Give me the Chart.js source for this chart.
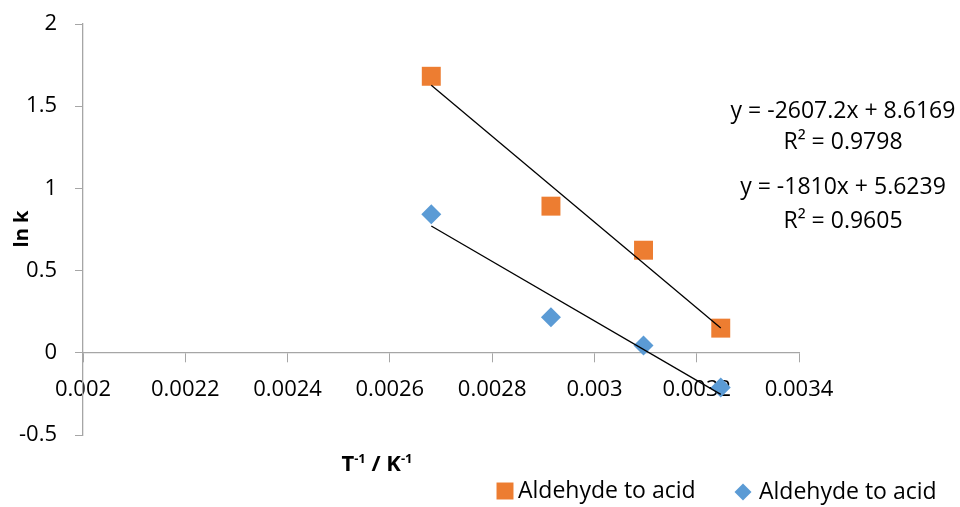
<!DOCTYPE html>
<html>
<head>
<meta charset="utf-8">
<title>ln k vs 1/T</title>
<script src="https://cdn.jsdelivr.net/npm/chart.js@4.4.1/dist/chart.umd.min.js"></script>
<style>
  body { margin: 0; background: #fff; }
  #wrap { width: 960px; height: 507px; }
</style>
</head>
<body>
<div id="wrap"><canvas id="grafico" width="960" height="507"></canvas></div>
<script>
// inverse temperature (1/K) and ln k for the two series
const invT = [0.002681, 0.002915, 0.003096, 0.003247];
const lnkLaranja = [1.682, 0.892, 0.624, 0.150];
const lnkAzul = [0.843, 0.217, 0.044, -0.211];

// linear fits: [laranja, azul]
const fitSlopes = [-2607.2, -1810];
const fitIntercepts = [8.6169, 5.6239];
const fitR2 = ['0.9798', '0.9605'];

const serieLabels = ['Aldehyde to acid', 'Aldehyde to acid'];
const xTicks = [0.002, 0.0022, 0.0024, 0.0026, 0.0028, 0.003, 0.0032, 0.0034];
const yTicks = [-0.5, 0, 0.5, 1, 1.5, 2];

const LARANJA = '#ed7d31';
const AZUL = '#5b9bd5';
const EIXO = '#a6a6a6';
const FONTE = '"Open Sans", "Liberation Sans", sans-serif';

function pontos(ys) {
    return invT.map((x, i) => ({ x, y: ys[i] }));
}

function linhaAjuste(i) {
    const x0 = invT[0], x1 = invT[invT.length - 1];
    return [
        { x: x0, y: fitSlopes[i] * x0 + fitIntercepts[i] },
        { x: x1, y: fitSlopes[i] * x1 + fitIntercepts[i] }
    ];
}

// titles, equations and legend
const anotacoes = {
    id: 'anotacoes',
    afterDraw(chart) {
        const ctx = chart.ctx;
        ctx.save();
        ctx.fillStyle = '#000';

        // y title
        ctx.save();
        ctx.translate(22, 229);
        ctx.rotate(-Math.PI / 2);
        ctx.font = 'bold 20px ' + FONTE;
        ctx.textAlign = 'center';
        ctx.textBaseline = 'middle';
        ctx.fillText('ln k', 0, 0);
        ctx.restore();

        // x title with superscripts
        const partes = [
            { t: 'T', f: 'bold 22px ' + FONTE, dy: 0 },
            { t: '-1', f: 'bold 13px ' + FONTE, dy: -8 },
            { t: ' / K', f: 'bold 22px ' + FONTE, dy: 0 },
            { t: '-1', f: 'bold 13px ' + FONTE, dy: -8 }
        ];
        let largura = 0;
        partes.forEach(p => { ctx.font = p.f; largura += ctx.measureText(p.t).width; });
        let xt = 377 - largura / 2;
        ctx.textAlign = 'left';
        ctx.textBaseline = 'alphabetic';
        partes.forEach(p => {
            ctx.font = p.f;
            ctx.fillText(p.t, xt, 471 + p.dy);
            xt += ctx.measureText(p.t).width;
        });

        // trendline equations
        ctx.font = '23px ' + FONTE;
        ctx.textAlign = 'center';
        ctx.textBaseline = 'middle';
        const eqY = [[111, 142], [187, 221]];
        fitSlopes.forEach((m, i) => {
            ctx.fillText(`y = ${m}x + ${fitIntercepts[i]}`, 843, eqY[i][0]);
            ctx.fillText(`R² = ${fitR2[i]}`, 843, eqY[i][1]);
        });

        // legend
        const itens = [
            { ds: chart.data.datasets[0], mx: 505, tx: 518, y: 491 },
            { ds: chart.data.datasets[1], mx: 743, tx: 759, y: 492 }
        ];
        itens.forEach(it => {
            ctx.fillStyle = it.ds.backgroundColor;
            ctx.strokeStyle = it.ds.backgroundColor;
            Chart.helpers.drawPoint(ctx, {
                pointStyle: it.ds.pointStyle,
                radius: it.ds.pointStyle === 'rect' ? 12 : 8.5,
                rotation: 0,
                borderWidth: 0
            }, it.mx, it.y);
            ctx.fillStyle = '#000';
            ctx.font = '23px ' + FONTE;
            ctx.textAlign = 'left';
            ctx.textBaseline = 'middle';
            ctx.fillText(it.ds.label, it.tx, it.y);
        });
        ctx.restore();
    }
};

const ctx = document.getElementById('grafico').getContext('2d');
window.graficoArrhenius = new Chart(ctx, {
    type: 'scatter',
    data: {
        datasets: [
            {
                label: serieLabels[0],
                data: pontos(lnkLaranja),
                pointStyle: 'rect',
                pointRadius: 13.4,
                backgroundColor: LARANJA,
                borderColor: LARANJA,
                borderWidth: 0,
                order: 2
            },
            {
                label: serieLabels[1],
                data: pontos(lnkAzul),
                pointStyle: 'rectRot',
                pointRadius: 10,
                backgroundColor: AZUL,
                borderColor: AZUL,
                borderWidth: 0,
                order: 2
            },
            {
                data: linhaAjuste(0),
                showLine: true,
                pointRadius: 0,
                borderColor: '#000',
                borderWidth: 1.3,
                order: 1
            },
            {
                data: linhaAjuste(1),
                showLine: true,
                pointRadius: 0,
                borderColor: '#000',
                borderWidth: 1.3,
                order: 1
            }
        ]
    },
    options: {
        responsive: false,
        animation: false,
        layout: { padding: { left: 0, top: 24, right: 161, bottom: 72 } },
        plugins: {
            legend: { display: false },
            tooltip: { enabled: false }
        },
        scales: {
            x: {
                type: 'linear',
                position: { y: 0 },
                min: 0.002,
                max: 0.0034,
                afterBuildTicks: s => { s.ticks = xTicks.map(v => ({ value: v })); },
                ticks: {
                    color: '#000',
                    font: { family: FONTE, size: 22 },
                    padding: 15,
                    maxRotation: 0,
                    autoSkip: false,
                    callback: v => String(v)
                },
                grid: { drawOnChartArea: false, drawTicks: true, tickLength: 9, color: EIXO },
                border: { display: true, color: EIXO, width: 1.3 }
            },
            y: {
                type: 'linear',
                min: -0.5,
                max: 2,
                afterBuildTicks: s => { s.ticks = yTicks.map(v => ({ value: v })); },
                // fixed width; the label padding should not push the plot area down
                afterFit: s => { s.width = 83; s.paddingTop = 0; s.paddingBottom = 0; },
                ticks: {
                    color: '#000',
                    font: { family: FONTE, size: 22 },
                    padding: 18,
                    autoSkip: false,
                    callback: v => String(v)
                },
                grid: { drawOnChartArea: false, drawTicks: true, tickLength: 8, color: EIXO },
                border: { display: true, color: EIXO, width: 1.3 }
            }
        }
    },
    plugins: [anotacoes]
});
</script>
</body>
</html>
